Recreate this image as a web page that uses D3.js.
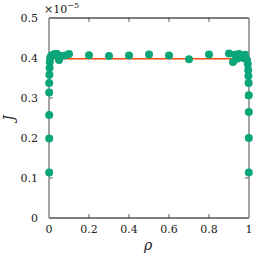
<!DOCTYPE html>
<html>
<head>
<meta charset="utf-8">
<script src="https://cdn.jsdelivr.net/npm/d3@7.9.0/dist/d3.min.js"></script>
<style>
  body { margin: 0; background: #fff; }
  svg text { font-family: "DejaVu Serif"; }
</style>
</head>
<body>
<div id="chart"></div>
<script>
// J values in units of 1e-5
const rho = [
  0.001, 0.001, 0.001, 0.001, 0.001, 0.002, 0.003, 0.004, 0.006,
  0.01, 0.02, 0.03, 0.04, 0.05, 0.06, 0.08, 0.1,
  0.2, 0.3, 0.4, 0.5, 0.6, 0.7, 0.8,
  0.9, 0.92, 0.93, 0.94, 0.95, 0.96, 0.97, 0.98,
  0.99, 0.994, 0.996, 0.997, 0.998, 0.999, 0.999, 0.999, 0.999
];
const J = [
  0.1135, 0.1985, 0.2575, 0.314, 0.3375, 0.358, 0.375, 0.39, 0.4,
  0.405, 0.408, 0.41, 0.41, 0.395, 0.405, 0.406, 0.41,
  0.407, 0.405, 0.406, 0.409, 0.406, 0.397, 0.409,
  0.411, 0.39, 0.408, 0.398, 0.41, 0.405, 0.4, 0.408,
  0.395, 0.385, 0.37, 0.355, 0.3375, 0.307, 0.265, 0.2, 0.1135
];
const meanJ = 0.398;
const xTicks = [0, 0.2, 0.4, 0.6, 0.8, 1];
const yTicks = [0, 0.1, 0.2, 0.3, 0.4, 0.5];

const width = 256, height = 260;
const area = { left: 49, right: 249, top: 18, bottom: 218 };

const svg = d3.select('#chart').append('svg')
  .attr('width', width).attr('height', height);

const x = d3.scaleLinear().domain([0, 1]).range([area.left, area.right]);
const y = d3.scaleLinear().domain([0, 0.5]).range([area.bottom, area.top]);

// ticks (inward)
const tickLen = 4;
const tk = svg.append('g').attr('stroke', '#333').attr('stroke-width', 0.8);
xTicks.slice(1, -1).forEach(t => {
  tk.append('line').attr('x1', x(t)).attr('x2', x(t)).attr('y1', area.bottom).attr('y2', area.bottom - tickLen);
  tk.append('line').attr('x1', x(t)).attr('x2', x(t)).attr('y1', area.top).attr('y2', area.top + tickLen);
});
yTicks.slice(1, -1).forEach(t => {
  tk.append('line').attr('x1', area.left).attr('x2', area.left + tickLen).attr('y1', y(t)).attr('y2', y(t));
  tk.append('line').attr('x1', area.right).attr('x2', area.right - tickLen).attr('y1', y(t)).attr('y2', y(t));
});

// frame
svg.append('line').attr('x1', area.left).attr('x2', area.right).attr('y1', area.top).attr('y2', area.top)
  .attr('stroke', '#000').attr('stroke-width', 1);
svg.append('line').attr('x1', area.left).attr('x2', area.right).attr('y1', area.bottom).attr('y2', area.bottom)
  .attr('stroke', '#000').attr('stroke-width', 1);
[0, 1].forEach(v => {
  svg.append('line').attr('x1', x(v)).attr('x2', x(v)).attr('y1', area.top).attr('y2', area.bottom)
    .attr('stroke', '#8c8c8c').attr('stroke-width', 1.6);
});

// mean line
svg.append('line')
  .attr('x1', x(0)).attr('x2', x(1)).attr('y1', y(meanJ)).attr('y2', y(meanJ))
  .attr('stroke', '#ff4d0f').attr('stroke-width', 1.5);

// points
svg.append('g').selectAll('circle')
  .data(rho.map((r, i) => [r, J[i]]))
  .join('circle')
  .attr('cx', d => x(d[0]))
  .attr('cy', d => y(d[1]))
  .attr('r', 4)
  .attr('fill', '#0aa579');

// tick labels
svg.append('g').selectAll('text')
  .data(xTicks).join('text')
  .attr('x', d => x(d)).attr('y', area.bottom + 15)
  .attr('text-anchor', 'middle').style('font-size', '11px').attr('fill', '#222')
  .text(d => d3.format('~g')(d));

svg.append('g').selectAll('text')
  .data(yTicks).join('text')
  .attr('x', area.left - 11).attr('y', d => y(d) + 4)
  .attr('text-anchor', 'end').style('font-size', '11px').attr('fill', '#222')
  .text(d => d3.format('~g')(d));

// exponent
const ex = svg.append('text').attr('x', 44).attr('y', 13).style('font-size', '11px').attr('fill', '#222');
ex.append('tspan').text('×10');
ex.append('tspan').attr('dy', -5).style('font-size', '8px').text('−5');

// axis titles
svg.append('text').attr('x', 148).attr('y', 250)
  .attr('text-anchor', 'middle').style('font-size', '14px').style('font-style', 'italic').attr('fill', '#222').text('ρ');
svg.append('text')
  .attr('transform', `translate(14,${(area.top + area.bottom) / 2}) rotate(-90)`)
  .attr('text-anchor', 'middle').style('font-size', '14px').style('font-style', 'italic').attr('fill', '#222').text('J');
</script>
</body>
</html>
